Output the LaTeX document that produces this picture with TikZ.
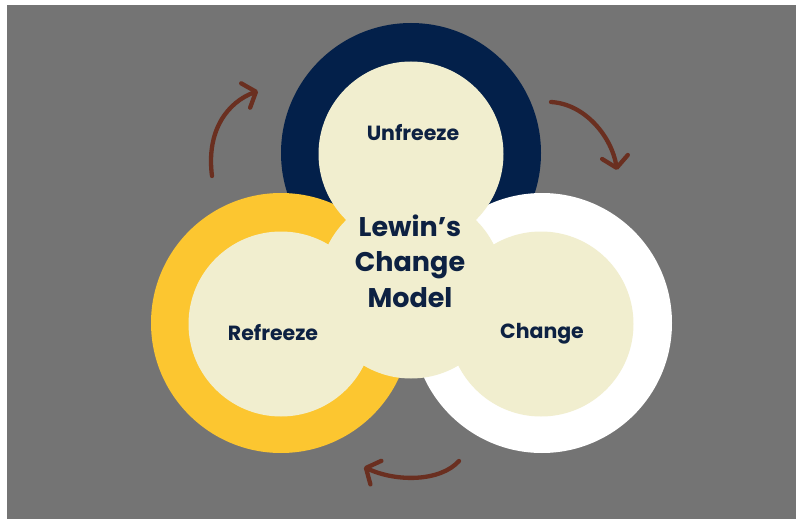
\documentclass[tikz,border=0pt]{standalone}
\usepackage{fontspec}
\usetikzlibrary{arrows.meta}
\newfontfamily\lblfont{Poppins}
\definecolor{bggray}{HTML}{747474}
\definecolor{ringnavy}{HTML}{03204A}
\definecolor{ringyellow}{HTML}{FCC630}
\definecolor{ringwhite}{HTML}{FFFFFF}
\definecolor{cream}{HTML}{F1EECF}
\definecolor{inktext}{HTML}{0D2142}
\definecolor{arrowbrown}{HTML}{6A2F20}
\tikzset{
  ring/.style={circle, minimum size=260pt, inner sep=0pt},
  core/.style={circle, fill=cream, minimum size=185pt, inner sep=0pt},
  stagelabel/.style={text=inktext, font=\lblfont\bfseries\fontsize{20.5}{24}\selectfont},
  title/.style={text=inktext, align=center,
    font=\lblfont\bfseries\fontsize{27}{35.5}\selectfont},
  cyclearrow/.style={draw=arrowbrown, line width=4.3pt, line cap=round,
    -{Straight Barb[length=11pt, width=26pt, line width=4.3pt, round]}},
}
\begin{document}
\begin{tikzpicture}[x=1pt, y=-1pt]
  \useasboundingbox (0,0) rectangle (796,519);
  \fill[white] (0,0) rectangle (796,519);
  \fill[bggray] (7,5) rectangle (796,519);

  % outer rings
  \node[ring, fill=ringnavy]   (unfreezering) at (411,153) {};
  \node[ring, fill=ringyellow] (refreezering) at (281,323) {};
  \node[ring, fill=ringwhite]  (changering)   at (542,323) {};

  % inner discs and the central disc
  \node[core] (unfreeze) at (411,154) {};
  \node[core] (refreeze) at (281,324) {};
  \node[core] (change)   at (541,324) {};
  \node[core] (centre)   at (411,286) {};

  % labels
  \node[stagelabel] (lblunfreeze) at (413,133) {Unfreeze};
  \node[stagelabel] (lblrefreeze) at (273,333) {Refreeze};
  \node[stagelabel] (lblchange)   at (542,334) {Change};
  \node[title] (lbltitle) at (410,261) {Lewin’s\\Change\\Model};

  % cycle arrows
  \coordinate (a1s) at (212,176);
  \coordinate (a1e) at (258,91);
  \coordinate (a2s) at (551,102);
  \coordinate (a2e) at (617,170);
  \coordinate (a3s) at (459,461);
  \coordinate (a3e) at (364,467);
  \draw[cyclearrow] (a1s) .. controls (206,130) and (228,102) .. (a1e);
  \draw[cyclearrow] (a2s) .. controls (586,104) and (612,138) .. (a2e);
  \draw[cyclearrow] (a3s) .. controls (440,482) and (396,482) .. (a3e);
\end{tikzpicture}
\end{document}
